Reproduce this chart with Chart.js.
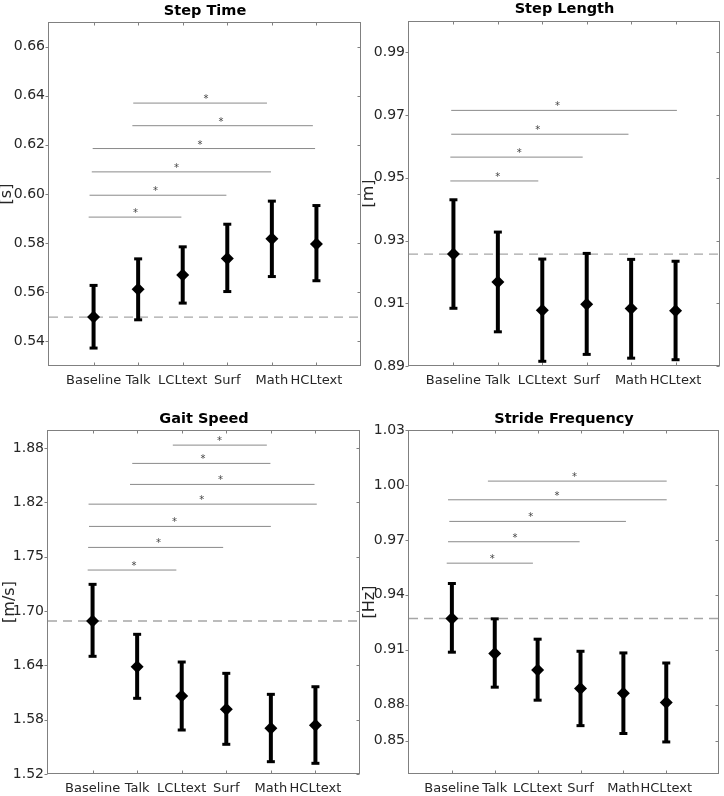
<!DOCTYPE html>
<html>
<head>
<meta charset="utf-8">
<script src="https://cdn.jsdelivr.net/npm/chart.js@4.4.0/dist/chart.umd.min.js"></script>
<style>
  html, body { margin: 0; padding: 0; background: #fff; }
  #wrap { position: relative; width: 724px; height: 796px; overflow: hidden; }
  canvas { position: absolute; }
</style>
</head>
<body>
<div id="wrap">
  <canvas id="stepTime" width="362" height="398" style="left:0;top:0"></canvas>
  <canvas id="stepLength" width="362" height="398" style="left:362px;top:0"></canvas>
  <canvas id="gaitSpeed" width="362" height="398" style="left:0;top:398px"></canvas>
  <canvas id="strideFreq" width="362" height="398" style="left:362px;top:398px"></canvas>
</div>
<script>
const categories = ['Baseline', 'Talk', 'LCLtext', 'Surf', 'Math', 'HCLtext'];

// Step Time [s]
const stepTimeMean = [0.5499, 0.5612, 0.5670, 0.5738, 0.5818, 0.5797];
const stepTimeLow = [0.5373, 0.5488, 0.5556, 0.5603, 0.5664, 0.5647];
const stepTimeHigh = [0.5628, 0.5736, 0.5785, 0.5877, 0.5971, 0.5953];
const stepTimeTicks = [0.54, 0.56, 0.58, 0.60, 0.62, 0.64, 0.66];
const stepTimeTickLabels = ['0.54', '0.56', '0.58', '0.60', '0.62', '0.64', '0.66'];
// significance bars: [from, to, y, star x]
const stepTimeSig = [
    [0.89, 2.97, 0.5906, 1.94],
    [0.91, 3.98, 0.5995, 2.39],
    [0.96, 4.98, 0.6090, 2.86],
    [0.98, 5.97, 0.6185, 3.39],
    [1.87, 5.92, 0.6278, 3.86],
    [1.89, 4.89, 0.6370, 3.52]
];

// Step Length [m]
const stepLengthMean = [0.9257, 0.9168, 0.9078, 0.9097, 0.9083, 0.9076];
const stepLengthLow = [0.9084, 0.9009, 0.8915, 0.8937, 0.8925, 0.8920];
const stepLengthHigh = [0.9430, 0.9327, 0.9241, 0.9259, 0.9240, 0.9234];
const stepLengthTicks = [0.89, 0.91, 0.93, 0.95, 0.97, 0.99];
const stepLengthTickLabels = ['0.89', '0.91', '0.93', '0.95', '0.97', '0.99'];
const stepLengthSig = [
    [0.93, 2.91, 0.9490, 2.00],
    [0.93, 3.91, 0.9566, 2.48],
    [0.95, 4.94, 0.9639, 2.90],
    [0.95, 6.03, 0.9715, 3.34]
];

// Gait Speed [m/s]
const gaitSpeedMean = [1.6890, 1.6385, 1.6061, 1.5914, 1.5705, 1.5738];
const gaitSpeedLow = [1.6500, 1.6036, 1.5686, 1.5528, 1.5336, 1.5318];
const gaitSpeedHigh = [1.7295, 1.6743, 1.6437, 1.6312, 1.6080, 1.6164];
const gaitSpeedTicks = [1.52, 1.58, 1.64, 1.70, 1.76, 1.82, 1.88];
const gaitSpeedTickLabels = ['1.52', '1.58', '1.64', '1.70', '1.75', '1.82', '1.88'];
const gaitSpeedSig = [
    [0.89, 2.88, 1.7453, 1.93],
    [0.90, 3.93, 1.7703, 2.48],
    [0.92, 5.00, 1.7935, 2.84],
    [0.91, 6.03, 1.8181, 3.45],
    [1.84, 5.98, 1.8399, 3.87],
    [1.89, 4.99, 1.8631, 3.48],
    [2.80, 4.91, 1.8833, 3.85]
];

// Stride Frequency [Hz]
const strideFreqMean = [0.9271, 0.9080, 0.8990, 0.8889, 0.8863, 0.8812];
const strideFreqLow = [0.9087, 0.8896, 0.8825, 0.8686, 0.8643, 0.8597];
const strideFreqHigh = [0.9462, 0.9269, 0.9158, 0.9092, 0.9083, 0.9028];
const strideFreqTicks = [0.8604, 0.88, 0.91, 0.94, 0.97, 1.00, 1.03];
const strideFreqTickLabels = ['0.85', '0.88', '0.91', '0.94', '0.97', '1.00', '1.03'];
const strideFreqSig = [
    [0.88, 2.89, 0.9573, 1.94],
    [0.91, 3.98, 0.9690, 2.47],
    [0.94, 5.06, 0.9801, 2.84],
    [0.91, 6.01, 0.9919, 3.45],
    [1.84, 6.01, 1.0021, 3.86]
];

const FONT = 'DejaVu Sans';
const AXIS_GREY = '#808080';

// frame with ticks on all four sides, plus the significance stars
const framePlugin = {
    id: 'frame',
    beforeDatasetsDraw(chart) {
        const { ctx, chartArea: a, scales: { x, y } } = chart;
        const L = Math.round(a.left) - 0.5, R = Math.round(a.right) - 0.5;
        const T = Math.round(a.top) + 0.5, B = Math.round(a.bottom) - 0.5;
        ctx.save();
        ctx.strokeStyle = AXIS_GREY;
        ctx.lineWidth = 1;
        ctx.strokeRect(L, T, R - L, B - T);
        ctx.beginPath();
        x.ticks.forEach(t => {
            const px = Math.round(x.getPixelForValue(t.value)) + 0.5;
            ctx.moveTo(px, B); ctx.lineTo(px, B - 3);
            ctx.moveTo(px, T); ctx.lineTo(px, T + 3);
        });
        y.ticks.forEach(t => {
            const py = Math.round(y.getPixelForValue(t.value)) + 0.5;
            ctx.moveTo(L - 3, py); ctx.lineTo(L, py);
            ctx.moveTo(R, py); ctx.lineTo(R - 3, py);
        });
        ctx.stroke();
        ctx.restore();
    },
    afterDatasetsDraw(chart, args, opts) {
        const { ctx, scales: { x, y } } = chart;
        ctx.save();
        ctx.fillStyle = '#444';
        ctx.font = '10px ' + FONT;
        ctx.textAlign = 'center';
        ctx.textBaseline = 'alphabetic';
        (opts.sig || []).forEach(s => {
            ctx.fillText('*', x.getPixelForValue(s[3]), y.getPixelForValue(s[2]) - 1);
        });
        ctx.restore();
    }
};

function makePanel(id, title, unit, mean, low, high, ticks, tickLabels, sig, yMin, yMax, xMax, box) {
    const W = 362, H = 398;
    const titleLH = 17.4;
    const titlePadTop = box.titleY - titleLH / 2;
    const titlePadBottom = box.top - titlePadTop - titleLH;

    const datasets = [];
    datasets.push({
        data: mean.map((m, i) => ({ x: i + 1, y: m })),
        pointStyle: 'rectRot',
        pointRadius: 6.5,
        backgroundColor: '#000',
        borderColor: '#000',
        borderWidth: 0
    });
    mean.forEach((m, i) => {
        datasets.push({
            data: [{ x: i + 1, y: low[i] }, { x: i + 1, y: high[i] }],
            showLine: true,
            borderColor: '#000',
            borderWidth: 4,
            pointStyle: 'line',
            pointRadius: 4,
            pointBorderWidth: 3,
            pointBorderColor: '#000'
        });
    });
    sig.forEach(s => {
        datasets.push({
            data: [{ x: s[0], y: s[2] }, { x: s[1], y: s[2] }],
            showLine: true,
            borderColor: '#8a8a8a',
            borderWidth: 1,
            pointRadius: 0
        });
    });
    datasets.push({
        data: [{ x: 0, y: mean[0] }, { x: xMax, y: mean[0] }],
        showLine: true,
        borderColor: '#a6a6a6',
        borderWidth: 1.3,
        borderDash: [9, 6],
        pointRadius: 0
    });

    new Chart(document.getElementById(id), {
        type: 'scatter',
        data: { datasets: datasets },
        options: {
            responsive: false,
            animation: false,
            events: [],
            layout: {
                autoPadding: false,
                padding: { left: 0, top: 0, bottom: 0, right: W - box.right }
            },
            plugins: {
                legend: { display: false },
                tooltip: { enabled: false },
                title: {
                    display: true,
                    fullSize: false,
                    text: title,
                    color: '#000',
                    font: { family: FONT, size: 14.5, weight: 'bold', lineHeight: 1.2 },
                    padding: { top: titlePadTop, bottom: titlePadBottom }
                },
                frame: { sig: sig }
            },
            scales: {
                x: {
                    type: 'linear',
                    min: 0,
                    max: xMax,
                    afterBuildTicks: scale => { scale.ticks = categories.map((c, i) => ({ value: i + 1 })); },
                    afterFit: scale => { scale.height = H - box.bottom; },
                    grid: { drawOnChartArea: false, drawTicks: false },
                    border: { display: false },
                    ticks: {
                        autoSkip: false,
                        maxRotation: 0,
                        padding: 7,
                        color: '#262626',
                        font: { family: FONT, size: 13 },
                        callback: v => categories[Math.round(v) - 1]
                    }
                },
                y: {
                    type: 'linear',
                    min: yMin,
                    max: yMax,
                    afterBuildTicks: scale => { scale.ticks = ticks.map(v => ({ value: v })); },
                    afterFit: scale => { scale.width = box.left; },
                    grid: { drawOnChartArea: false, drawTicks: false },
                    border: { display: false },
                    ticks: {
                        padding: 4,
                        color: '#262626',
                        font: { family: FONT, size: 14 },
                        callback: (v, i) => tickLabels[i]
                    },
                    title: {
                        display: true,
                        text: unit,
                        color: '#262626',
                        font: { family: FONT, size: 16, lineHeight: (2 * box.labelX) + 'px' },
                        padding: { top: 0, bottom: 0 }
                    }
                }
            }
        },
        plugins: [framePlugin]
    });
}

makePanel('stepTime', 'Step Time', '[s]', stepTimeMean, stepTimeLow, stepTimeHigh,
    stepTimeTicks, stepTimeTickLabels, stepTimeSig, 0.53, 0.67, 7,
    { left: 49, right: 361, top: 22, bottom: 366, titleY: 11, labelX: 7 });
makePanel('stepLength', 'Step Length', '[m]', stepLengthMean, stepLengthLow, stepLengthHigh,
    stepLengthTicks, stepLengthTickLabels, stepLengthSig, 0.89, 1.00, 7,
    { left: 47, right: 358, top: 21, bottom: 366, titleY: 9, labelX: 7 });
makePanel('gaitSpeed', 'Gait Speed', '[m/s]', gaitSpeedMean, gaitSpeedLow, gaitSpeedHigh,
    gaitSpeedTicks, gaitSpeedTickLabels, gaitSpeedSig, 1.52, 1.90, 7,
    { left: 48, right: 360, top: 32, bottom: 376, titleY: 21, labelX: 10 });
makePanel('strideFreq', 'Stride Frequency', '[Hz]', strideFreqMean, strideFreqLow, strideFreqHigh,
    strideFreqTicks, strideFreqTickLabels, strideFreqSig, 0.8422, 1.03, 7.23,
    { left: 47, right: 357, top: 32, bottom: 376, titleY: 21, labelX: 8 });
</script>
</body>
</html>
